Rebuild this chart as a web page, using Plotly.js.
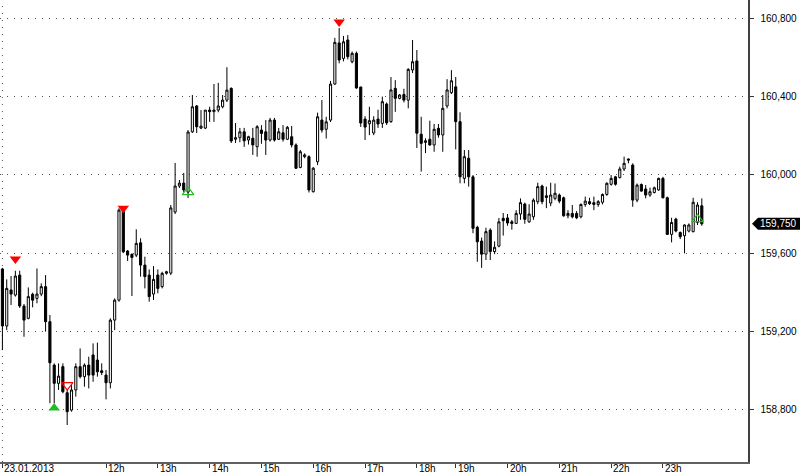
<!DOCTYPE html>
<html>
<head>
<meta charset="utf-8">
<script src="https://cdn.plot.ly/plotly-3.0.1.min.js"></script>
<style>html,body{margin:0;padding:0;background:#fff;}#chart{width:800px;height:475px;}</style>
</head>
<body>
<div id="chart"></div>
<script>
// 5-minute bars, 23.01.2013 from 10:00
const openV = [159519,159228,159412,159386,159488,159330,159267,159390,159369,159391,159429,159250,159028,158935,159020,158887,158798,158901,159020,158969,159028,159080,159054,158999,158977,158938,159258,159360,159817,159611,159594,159590,159653,159539,159488,159391,159488,159429,159497,159498,159810,159943,159958,159912,160220,160352,160239,160239,160331,160323,160331,160348,160382,160442,160182,160190,160220,160178,160187,160144,160229,160220,160178,160280,160182,160215,160182,160195,160153,160038,160093,160093,159914,160067,160280,160233,160280,160464,160674,160595,160689,160578,160621,160449,160285,160261,160214,160285,160263,160362,160272,160442,160391,160411,160382,160536,160582,160208,160166,160182,160153,160238,160204,160352,160420,160450,160272,159982,160085,159990,159732,159662,159595,159718,159608,159636,159778,159780,159760,159752,159800,159851,159760,159786,159863,159943,159893,159856,159880,159897,159883,159791,159803,159803,159786,159849,159863,159858,159849,159860,159900,159952,159990,159986,160030,160081,160050,159871,159951,159928,159897,159910,159923,159982,159883,159696,159774,159706,159689,159713,159710,159757,159842];
const highV = [159525,159466,159483,159510,159510,159340,159425,159398,159522,159446,159488,159284,159037,159037,159037,158901,158926,159037,159113,159037,159071,159139,159143,159037,159003,159267,159369,159829,159834,159616,159599,159722,159676,159582,159517,159534,159517,159505,159510,159846,160061,159974,160010,160229,160408,160357,160331,160331,160348,160464,160470,160408,160550,160447,160265,160240,160240,160200,160240,160254,160254,160280,160291,160291,160240,160254,160250,160250,160161,160127,160110,160100,160040,160318,160382,160297,160480,160700,160750,160710,160714,160630,160630,160450,160300,160348,160300,160333,160400,160370,160500,160484,160413,160440,160545,160689,160638,160297,160187,160277,160260,160260,160408,160489,160535,160500,160320,160127,160127,159999,159740,159680,159730,159727,159660,159780,159805,159800,159770,159820,159880,159858,159850,159880,159960,159950,159940,159960,159956,159905,159889,159820,159846,159815,159854,159889,159883,159889,159871,159905,159962,159999,159995,160042,160093,160084,160059,159956,159956,159948,159935,159940,159986,159990,159889,159781,159781,159710,159747,159752,159883,159860,159880];
const lowV = [159105,159207,159335,159378,159320,159173,159262,159323,159344,159380,159199,158833,158833,158901,158884,158722,158790,158867,158960,158918,158909,158943,158969,158977,158853,158909,159207,159352,159600,159560,159381,159580,159480,159420,159352,159361,159395,159420,159490,159488,159800,159933,159912,159882,160214,160214,160234,160234,160271,160271,160320,160340,160372,160163,160163,160167,160143,160155,160102,160093,160159,160102,160170,160170,160178,160170,160178,160140,160030,160034,160085,159910,159910,160050,160216,160186,160270,160460,160570,160580,160590,160570,160440,160245,160178,160203,160203,160240,160240,160255,160266,160322,160386,160370,160340,160520,160137,160017,160111,160148,160118,160190,160118,160340,160413,160130,159957,159957,159940,159702,159556,159525,159565,159565,159595,159630,159690,159740,159720,159752,159770,159750,159755,159770,159850,159850,159830,159840,159870,159855,159786,159778,159778,159774,159778,159837,159846,159820,159837,159849,159893,159945,159945,159982,160020,160059,159837,159860,159914,159880,159888,159905,159918,159880,159693,159655,159706,159672,159599,159706,159706,159744,159740];
const closeV = [159228,159420,159391,159483,159330,159258,159378,159360,159391,159429,159250,159040,158935,158972,158892,158790,158901,159020,158969,159028,158977,158977,158994,158990,158938,159258,159360,159820,159607,159590,159578,159650,159539,159480,159378,159466,159420,159497,159505,159831,159943,159958,159923,160219,160348,160246,160249,160331,160323,160331,160352,160382,160433,160173,160190,160220,160174,160195,160153,160246,160212,160178,160280,160178,160220,160182,160243,160153,160034,160118,160102,159923,160034,160297,160229,160271,160464,160677,160587,160680,160604,160621,160444,160265,160244,160277,160280,160260,160374,160266,160434,160391,160408,160382,160539,160578,160213,160161,160174,160153,160233,160204,160340,160434,160481,160272,159990,160093,159990,159727,159658,159595,159710,159608,159630,159760,159766,159754,159752,159803,159858,159773,159800,159871,159940,159863,159885,159897,159906,159866,159791,159803,159786,159781,159849,159866,159853,159849,159863,159900,159957,159982,159952,160030,160059,160076,159871,159948,159917,159897,159914,159934,159982,159883,159696,159757,159713,159684,159744,159744,159860,159846,159750];

const tickBars   = [0, 24, 36, 48, 60, 72, 84, 96, 105, 117, 129, 141, 153];
const tickLabels = ["23.01.2013","12h","13h","14h","15h","16h","17h","18h","19h","20h","21h","22h","23h"];

const sellBars = [3, 28, 78];            const sellVals = [159570, 159830, 160781];
const sellOpenBars = [15];               const sellOpenVals = [158926];
const buyBars = [12];                    const buyVals = [158809];
const buyOpenBars = [43, 161];           const buyOpenVals = [159912, 159774];

const lastPrice = closeV[closeV.length - 1];

const xs = openV.map((_, i) => i);

const candle = {
  type: 'candlestick', x: xs, open: openV, high: highV, low: lowV, close: closeV,
  increasing: {line: {color: '#000000', width: 1}, fillcolor: '#ffffff'},
  decreasing: {line: {color: '#000000', width: 1}, fillcolor: '#000000'},
  whiskerwidth: 0, hoverinfo: 'skip', showlegend: false
};
function mk(xv, yv, sym, col, lw) {
  return {type: 'scatter', mode: 'markers', x: xv, y: yv, showlegend: false, hoverinfo: 'skip',
    marker: {symbol: sym, size: 10, color: col, line: {color: col, width: lw}}};
}
const traces = [candle,
  mk(sellBars, sellVals, 'triangle-down', '#ff0000', 0),
  mk(sellOpenBars, sellOpenVals, 'triangle-down-open', '#ff0000', 1.2),
  mk(buyBars, buyVals, 'triangle-up', '#22bb22', 0),
  mk(buyOpenBars, buyOpenVals, 'triangle-up-open', '#22bb22', 1.2)
];

const fnt = {family: 'Liberation Sans, Arial, sans-serif', size: 10, color: '#000'};
const annotations = tickLabels.map((t, k) => ({
  x: tickBars[k], xref: 'x', y: 0, yref: 'paper', yanchor: 'top', xanchor: 'left',
  text: t, showarrow: false, xshift: 0, yshift: 1, font: fnt
}));
annotations.push({x: 1, xref: 'paper', y: lastPrice, yref: 'y', xanchor: 'left', yanchor: 'middle',
  xshift: 10, text: lastPrice.toLocaleString('en-US'), showarrow: false,
  font: {family: fnt.family, size: 10, color: '#ffffff'}});

const layout = {
  width: 800, height: 475,
  margin: {l: 0, r: 52, t: 0, b: 13},
  paper_bgcolor: '#ffffff', plot_bgcolor: '#ffffff',
  font: fnt,
  showlegend: false,
  xaxis: {
    range: [-0.56, 172.7], tickvals: tickBars, ticktext: tickBars.map(() => ''),
    showgrid: false, zeroline: false, ticks: 'outside', ticklen: 4, tickcolor: '#333',
    showline: true, linecolor: '#606060', linewidth: 2,
    rangeslider: {visible: false}, fixedrange: true
  },
  yaxis: {
    side: 'right', range: [158533, 160893.5], dtick: 400, tick0: 158800,
    tickformat: ',d', showgrid: true, gridcolor: '#555555', gridwidth: 1, griddash: '1px,6px',
    zeroline: false, ticks: 'outside', ticklen: 4, tickcolor: '#333',
    showline: true, linecolor: '#404040', linewidth: 1.5, ticklabelstandoff: 5,
    tickfont: fnt, fixedrange: true
  },
  shapes: [
    {type: 'line', xref: 'x', x0: tickBars[0], x1: tickBars[0], yref: 'paper', y0: 0, y1: 1,
      line: {color: '#555555', width: 1, dash: '1px,6px'}, layer: 'below'},
    {type: 'path', xref: 'paper', yref: 'y', xsizemode: 'pixel', ysizemode: 'pixel',
      xanchor: 1, yanchor: lastPrice, path: 'M 4 0 L 10 6 L 60 6 L 60 -6 L 10 -6 Z',
      fillcolor: '#000000', line: {width: 0}, layer: 'above'}
  ],
  annotations: annotations
};

Plotly.newPlot('chart', traces, layout, {displayModeBar: false, staticPlot: true});
</script>
</body>
</html>
